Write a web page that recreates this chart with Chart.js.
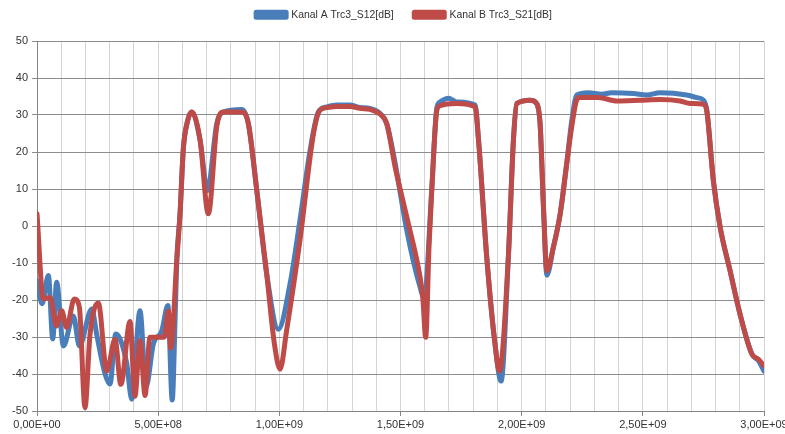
<!DOCTYPE html>
<html>
<head>
<meta charset="utf-8">
<script src="https://cdn.jsdelivr.net/npm/chart.js@4"></script>
<style>
  html, body { margin: 0; padding: 0; background: #fff; }
  #wrap { width: 785px; height: 434px; }
</style>
</head>
<body>
<div id="wrap"><canvas id="chart"></canvas></div>
<script>
// frequencies in MHz, values in dB
var freqA = [0, 21, 47, 65, 81, 109, 150, 175, 226, 246, 281, 301, 325, 370, 391, 425, 450, 480, 515, 540, 558, 570, 577, 590, 604, 620, 638, 673, 703, 742, 769, 845, 872, 907, 948, 996, 1044, 1085, 1127, 1161, 1196, 1237, 1292, 1333, 1374, 1416, 1443, 1478, 1526, 1581, 1598, 1629, 1650, 1663, 1698, 1732, 1808, 1822, 1856, 1890, 1915, 1945, 1966, 1980, 2035, 2062, 2076, 2090, 2104, 2131, 2159, 2186, 2207, 2228, 2275, 2330, 2371, 2461, 2516, 2571, 2681, 2723, 2750, 2764, 2791, 2819, 2860, 2901, 2950, 2977, 3000];
var dbA = [-14.8, -21, -13.4, -30.5, -15.2, -32.4, -24.3, -32.4, -22.4, -29.2, -40, -42.7, -29.2, -37, -46.8, -22.9, -43.5, -31.9, -28.3, -21.5, -47, -25, -9, 3, 21, 28, 30.8, 23.2, 9.6, 27.7, 30.8, 31.5, 27.7, 9.6, -13, -27.9, -15.7, 1.5, 20.5, 30.8, 32.2, 32.7, 32.7, 32, 31.8, 30.4, 27.7, 16.9, -1.2, -16.6, -19.5, 10, 32, 33.5, 34.5, 33.5, 32.7, 23.2, -8.5, -31.9, -41.9, -8.5, 23.2, 33.1, 34, 33.1, 27.7, 5.1, -13.3, -5.7, 3.3, 16.9, 28.6, 35.4, 36, 35.6, 36, 35.8, 35.4, 36, 35.4, 34.7, 34, 31.3, 12.3, -0.3, -12.1, -23.8, -34.6, -36.4, -39.2];

var freqB = [0, 26, 54, 81, 102, 122, 154, 175, 198, 219, 253, 288, 322, 346, 384, 404, 425, 446, 466, 525, 542, 552, 577, 590, 604, 620, 638, 673, 707, 742, 769, 845, 872, 907, 948, 980, 1003, 1030, 1085, 1141, 1168, 1196, 1237, 1292, 1333, 1374, 1416, 1443, 1478, 1526, 1581, 1592, 1604, 1618, 1629, 1650, 1663, 1732, 1808, 1822, 1856, 1890, 1908, 1945, 1966, 1980, 2035, 2062, 2076, 2090, 2104, 2131, 2159, 2186, 2207, 2228, 2241, 2317, 2392, 2489, 2571, 2654, 2695, 2750, 2764, 2791, 2819, 2860, 2901, 2950, 2977, 3000];
var dbB = [3.3, -19.7, -19.3, -27, -22.9, -27.4, -19.7, -22, -49.1, -29.2, -20.8, -39.2, -30.6, -42.8, -25.8, -46, -31, -45.8, -30.1, -30.1, -23, -33, -9, 3, 21, 28, 30.8, 23.2, 3.3, 27, 30.8, 30.8, 27.7, 9.6, -13, -32, -38.7, -28.3, -3.9, 25, 31.3, 32, 32.3, 32.3, 31.8, 31.5, 30.2, 27.7, 15.9, 2.4, -13.9, -19.3, -30.1, -5, 9.6, 31.3, 32.5, 33.1, 32.2, 23.2, -8.5, -31.9, -39.2, -8.5, 23.2, 33.1, 34, 33.1, 27.7, 5.1, -12.1, -5.7, 3.3, 16.9, 27, 34.2, 34.7, 34.7, 33.8, 34, 34.2, 33.8, 33.1, 32.9, 31, 12.3, -0.3, -12.1, -23.8, -34.6, -36, -37.8];

var seriesNames = ['Kanal A Trc3_S12[dB]', 'Kanal B Trc3_S21[dB]'];

function toPoints(f, v) {
  var pts = [];
  for (var i = 0; i < f.length; i++) pts.push({ x: f[i] * 1e6, y: v[i] });
  return pts;
}

function sci(v) {
  if (v === 0) return '0,00E+00';
  var e = Math.floor(Math.log10(v) + 1e-9);
  var m = v / Math.pow(10, e);
  return m.toFixed(2).replace('.', ',') + 'E+' + (e < 10 ? '0' + e : e);
}

function isMajor(v) { return Math.round(v / 1e8) % 5 === 0; }

// nudge the legend up/right to sit where the original one is
var legendShift = {
  id: 'legendShift',
  afterLayout: function (chart) {
    var lg = chart.legend;
    lg.top -= 11; lg.bottom -= 11;
    lg.left += 22; lg.right += 22;
  }
};

Chart.defaults.font.family = '"Liberation Sans", Arial, sans-serif';
Chart.defaults.font.size = 11;
Chart.defaults.color = '#333';

var ctx = document.getElementById('chart').getContext('2d');
var myChart = new Chart(ctx, {
  type: 'scatter',
  data: {
    datasets: [{
      label: seriesNames[0],
      data: toPoints(freqA, dbA),
      borderColor: '#4A7EBB',
      backgroundColor: '#4A7EBB',
      borderWidth: 5,
      showLine: true,
      pointRadius: 0,
      order: 1,
      cubicInterpolationMode: 'monotone',
      borderCapStyle: 'round',
      borderJoinStyle: 'round'
    }, {
      label: seriesNames[1],
      data: toPoints(freqB, dbB),
      borderColor: '#BE4B48',
      backgroundColor: '#BE4B48',
      borderWidth: 5,
      showLine: true,
      pointRadius: 0,
      order: 0,
      cubicInterpolationMode: 'monotone',
      borderCapStyle: 'round',
      borderJoinStyle: 'round'
    }]
  },
  plugins: [legendShift],
  options: {
    responsive: true,
    maintainAspectRatio: false,
    animation: false,
    layout: { padding: { left: 0, right: 21, top: 0, bottom: 0 } },
    plugins: {
      legend: {
        position: 'top',
        labels: {
          boxWidth: 30, boxHeight: 5, padding: 20.5, color: '#333',
          font: { size: 10.4 },
          sort: function (a, b) { return a.datasetIndex - b.datasetIndex; }
        }
      },
      tooltip: { enabled: false }
    },
    scales: {
      x: {
        type: 'linear',
        min: 0,
        max: 3e9,
        afterFit: function (s) { s.height = 23; s.paddingLeft = 0; s.paddingRight = 0; },
        ticks: {
          stepSize: 1e8,
          maxTicksLimit: 40,
          autoSkip: false,
          maxRotation: 0,
          padding: 2,
          callback: function (v) { return isMajor(v) ? sci(v) : ''; }
        },
        grid: {
          color: '#D4D4D4',
          tickLength: 5,
          tickColor: function (c) { return isMajor(c.tick.value) ? '#868686' : 'rgba(0,0,0,0)'; }
        },
        border: { color: '#868686' }
      },
      y: {
        min: -50,
        max: 50,
        afterFit: function (s) { s.width = 37; s.paddingTop = 41; s.paddingBottom = 0; },
        ticks: { stepSize: 10, padding: 4 },
        grid: { color: '#8C8C8C', tickLength: 5 },
        border: { color: '#868686' }
      }
    }
  }
});
</script>
</body>
</html>
